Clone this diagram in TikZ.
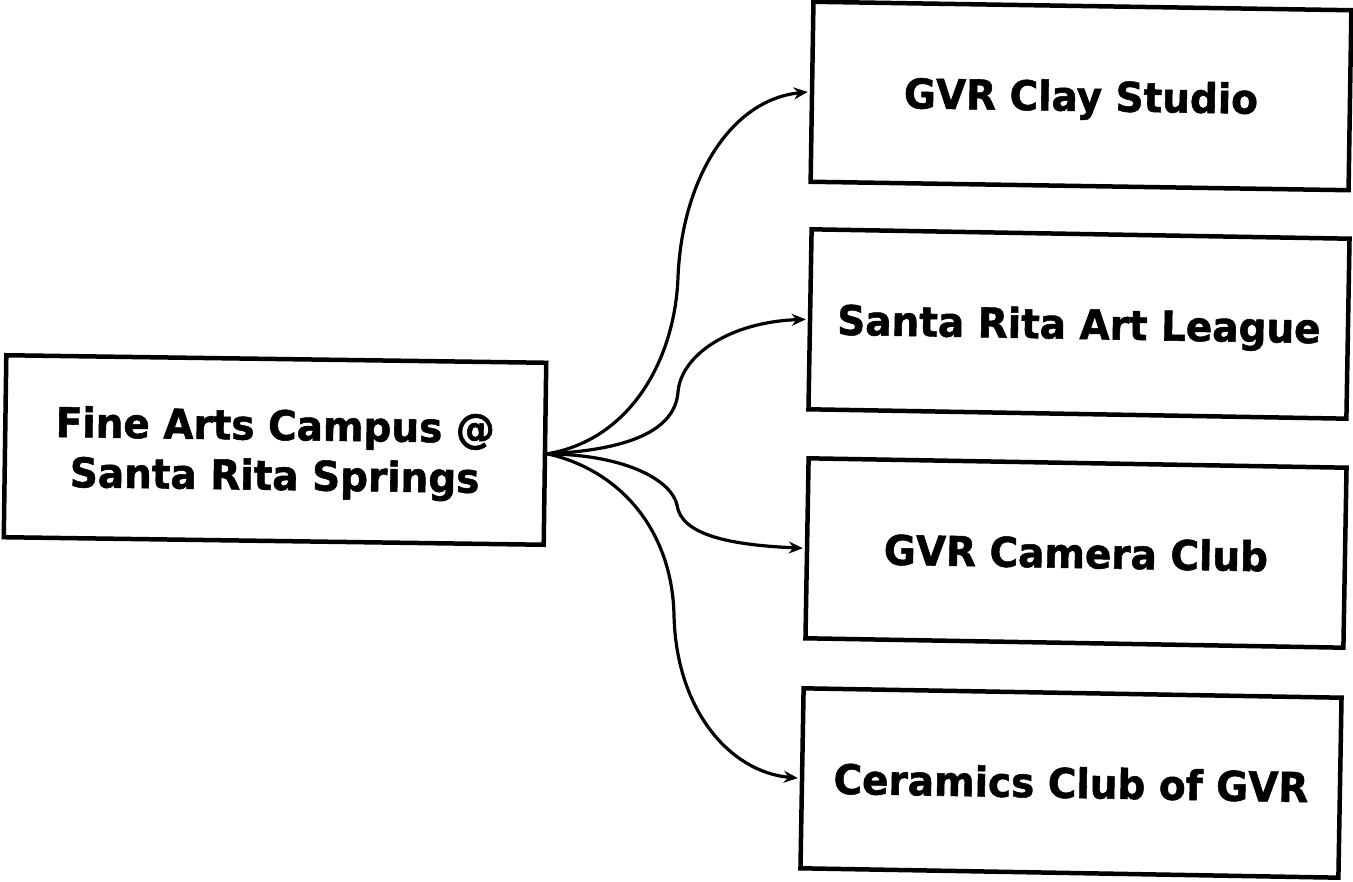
\documentclass[tikz,border=0pt]{standalone}
\usepackage{fontspec}
\setmainfont{DejaVu Sans}
\newfontfamily\boxfont[FakeStretch=0.95,FakeBold=1.3]{DejaVu Sans Bold}
\usetikzlibrary{arrows.meta}
% box text, lowered a little inside its box without changing the box size
\newcommand{\boxtext}[1]{\raisebox{-5pt}[\height][\depth]{\begin{tabular}{@{}c@{}}#1\end{tabular}}}
\begin{document}
\begin{tikzpicture}[x=1pt,y=-1pt,
  box/.style={draw, line width=4.5pt, minimum width=538pt, minimum height=180pt,
    inner sep=0pt, font=\fontsize{41}{50}\selectfont\boxfont},
  link/.style={line width=3.2pt, shorten >=2pt, -{Stealth[length=14pt,width=12pt]}}]
\useasboundingbox (0,0) rectangle (1353,882);

% source box and the four destination boxes
\node[box, minimum width=540pt, minimum height=182pt, rotate=-0.8] (fa) at (275,450)
  {\boxtext{Fine Arts Campus @\\Santa Rita Springs}};
\node[box, rotate=-0.9] (c1) at (1081,96)  {\boxtext{GVR Clay Studio}};
\node[box, rotate=-1.0] (c2) at (1079,324) {\boxtext{Santa Rita Art League}};
\node[box, rotate=-1.0] (c3) at (1076,553) {\boxtext{GVR Camera Club}};
\node[box, rotate=-1.0] (c4) at (1071,783) {\boxtext{Ceramics Club of GVR}};

% turning points of the S-shaped links
\coordinate (m1) at (678,277);
\coordinate (m2) at (678,392);
\coordinate (m3) at (677,505);
\coordinate (m4) at (674,615);

\draw[link] (fa.east) .. controls (630,440) and (675,360) .. (m1)
  .. controls (682,180) and (730,100) .. (c1.west);
\draw[link] (fa.east) .. controls (630,450) and (675,430) .. (m2)
  .. controls (681,355) and (730,322) .. (c2.west);
\draw[link] (fa.east) .. controls (630,455) and (672,482) .. (m3)
  .. controls (681,535) and (730,545) .. (c3.west);
\draw[link] (fa.east) .. controls (620,470) and (672,530) .. (m4)
  .. controls (676,710) and (730,772) .. (c4.west);
\end{tikzpicture}
\end{document}
